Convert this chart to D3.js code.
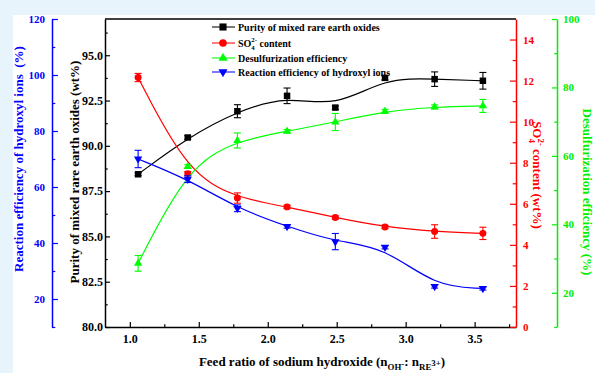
<!DOCTYPE html>
<html>
<head>
<meta charset="utf-8">
<script src="https://cdn.jsdelivr.net/npm/d3@7"></script>
<style>
  body { margin: 0; background: #e8f4fb; }
  svg { display: block; }
  text { font-family: "Liberation Serif", "Times New Roman", serif; font-weight: bold; white-space: pre; }
</style>
</head>
<body>
<svg id="chart" width="595" height="373"></svg>
<script>
// Feed ratio of NaOH (n_OH- : n_RE3+)
const feedRatio   = [1.06, 1.42, 1.78, 2.14, 2.49, 2.85, 3.21, 3.56];
// Purity of mixed rare earth oxides (wt%)
const purity      = [88.43, 90.46, 91.91, 92.76, 92.11, 93.75, 93.68, 93.59];
const purityErr   = [0.08, 0.10, 0.36, 0.43, 0.10, 0.12, 0.40, 0.46];
// SO4 2- content (wt%)
const sulfate     = [12.15, 7.47, 6.28, 5.85, 5.33, 4.87, 4.65, 4.56];
const sulfateErr  = [0.20, 0.10, 0.25, 0.08, 0.08, 0.08, 0.33, 0.30];
// Desulfurization efficiency (%)
const desulf      = [28.6, 56.9, 64.5, 67.2, 69.9, 73.0, 74.3, 74.6];
const desulfErr   = [2.3, 0.5, 2.2, 0.5, 2.5, 0.6, 0.6, 1.9];
// Reaction efficiency of hydroxyl ions (%)
const hydroxylEff = [70.0, 62.8, 52.4, 45.9, 40.5, 38.5, 24.5, 23.8];
const hydroxylErr = [3.1, 1.2, 1.2, 0.6, 2.9, 0.6, 0.6, 0.6];

// Tick values
const xTicks       = [1.0, 1.5, 2.0, 2.5, 3.0, 3.5];
const xMinor       = [1.25, 1.75, 2.25, 2.75, 3.25, 3.75];
const purityTicks  = [80, 82.5, 85, 87.5, 90, 92.5, 95];
const purityMinor  = [81.25, 83.75, 86.25, 88.75, 91.25, 93.75, 96.25];
const sulfateTicks = [0, 2, 4, 6, 8, 10, 12, 14];
const sulfateMinor = [1, 3, 5, 7, 9, 11, 13];
const desulfTicks  = [20, 40, 60, 80, 100];
const desulfMinor  = [10, 30, 50, 70, 90];
const effTicks     = [20, 40, 60, 80, 100, 120];
const effMinor     = [10, 30, 50, 70, 90, 110];

const svg = d3.select("#chart");
const L = 105, R = 516, T = 19, B = 327;
const serif = '"Liberation Serif", "Times New Roman", serif';

// white panel over the light-blue page
svg.append("rect").attr("x", 13).attr("y", 15).attr("width", 595 - 13).attr("height", 373 - 15).attr("fill", "#fff");

const x       = d3.scaleLinear().domain([0.82, 3.8]).range([L, R]);
const yPur    = d3.scaleLinear().domain([80, 97]).range([B, T]);
const ySO4    = d3.scaleLinear().domain([0, 15]).range([B, T]);
const yDes    = d3.scaleLinear().domain([10, 100]).range([B, T]);
const yEff    = d3.scaleLinear().domain([10, 120]).range([B, T]);

function styleAxis(g, color, size) {
  g.attr("font-family", serif).attr("font-size", size).attr("font-weight", "bold").attr("color", color);
  g.select(".domain").attr("stroke-width", 1.5);
  g.selectAll(".tick line").attr("stroke-width", 1.2);
}

function axisPair(gen, scale, major, minor, fmt, tickLen, pad, pos, color, size) {
  const g = svg.append("g").attr("transform", pos);
  g.call(gen(scale).tickValues(major).tickFormat(fmt).tickSizeInner(tickLen).tickSizeOuter(0).tickPadding(pad));
  styleAxis(g, color, size);
  const gm = svg.append("g").attr("transform", pos);
  gm.call(gen(scale).tickValues(minor).tickFormat("").tickSizeInner(tickLen * 0.55).tickSizeOuter(0));
  gm.attr("color", color);
  gm.select(".domain").remove();
  gm.selectAll(".tick line").attr("stroke-width", 1.2);
  return g;
}

// Frame top line
svg.append("line").attr("x1", L).attr("x2", R).attr("y1", T).attr("y2", T).attr("stroke", "#000").attr("stroke-width", 1.5);

// Axes
axisPair(d3.axisBottom, x, xTicks, xMinor, d3.format(".1f"), -5, 7, `translate(0,${B})`, "#000", 12);
axisPair(d3.axisLeft, yPur, purityTicks, purityMinor, d3.format(".1f"), -5, 2, `translate(${L},0)`, "#000", 12);
axisPair(d3.axisLeft, yEff, effTicks, effMinor, d3.format("d"), -6, 7, `translate(52,0)`, "#0000ff", 11);
axisPair(d3.axisRight, ySO4, sulfateTicks, sulfateMinor, d3.format("d"), -6, 7, `translate(${R},0)`, "#ff0000", 11);
axisPair(d3.axisRight, yDes, desulfTicks, desulfMinor, d3.format("d"), -5, 6, `translate(557,0)`, "#00ee00", 11);

// Rich text helper: segments with sub/superscripts (stacked where flagged)
function rich(parent, segs, { x0, y0, size, color, rotate = 0 }) {
  const g = parent.append("g").attr("transform", `translate(${x0},${y0}) rotate(${rotate})`);
  const inner = g.append("g");
  let cx = 0, prevStart = 0, prevW = 0;
  segs.forEach(s => {
    const fs = s.k ? size * 0.68 : size;
    const dy = s.dy !== undefined ? s.dy * size : (s.k === "sup" ? -size * 0.42 : s.k === "sub" ? size * 0.3 : 0);
    const start = s.stack ? prevStart : cx;
    const t = inner.append("text").attr("x", start).attr("y", dy)
      .attr("font-size", fs).attr("fill", color).text(s.t);
    const w = t.node().getComputedTextLength();
    if (s.stack) { cx = prevStart + Math.max(prevW, w); }
    else { prevStart = start; prevW = w; cx = start + w; }
  });
  inner.attr("transform", `translate(${-cx / 2},0)`);
  return g;
}

// Axis titles
rich(svg, [{ t: "Reaction efficiency of hydroxyl ions  (%)" }], { x0: 23, y0: 159, size: 13, color: "#0000ff", rotate: -90 });
rich(svg, [{ t: "Purity of mixed rare earth oxides (wt%)" }], { x0: 79, y0: 172, size: 13, color: "#000", rotate: -90 });
rich(svg, [{ t: "SO" }, { t: "2-", k: "sup" }, { t: "4", k: "sub", stack: true }, { t: " content (wt%)" }],
  { x0: 533, y0: 175, size: 13, color: "#ff0000", rotate: 90 });
rich(svg, [{ t: "Desulfurization efficiency (%)" }], { x0: 583, y0: 192, size: 13, color: "#00ee00", rotate: 90 });
rich(svg, [{ t: "Feed ratio of sodium hydroxide (n" }, { t: "OH", k: "sub" }, { t: "-", k: "sup", dy: 0.05 },
  { t: ": n" }, { t: "RE", k: "sub" }, { t: "3+", k: "sup", dy: 0.0 }, { t: ")" }],
  { x0: 322, y0: 366, size: 13, color: "#000" });

// Series
const series = [
  { name: "purity",  vals: purity,      err: purityErr,   y: yPur, color: "#000000", sym: d3.symbolSquare,   size: 42, rot: 0 },
  { name: "sulfate", vals: sulfate,     err: sulfateErr,  y: ySO4, color: "#ff0000", sym: d3.symbolCircle,   size: 38, rot: 0 },
  { name: "desulf",  vals: desulf,      err: desulfErr,   y: yDes, color: "#00ff00", sym: d3.symbolTriangle, size: 30, rot: 0 },
  { name: "hydroxyl",vals: hydroxylEff, err: hydroxylErr, y: yEff, color: "#0000ff", sym: d3.symbolTriangle, size: 30, rot: 180 }
];

series.forEach(s => {
  const pts = feedRatio.map((f, i) => ({ f, v: s.vals[i], e: s.err[i] }));
  const line = d3.line().x(d => x(d.f)).y(d => s.y(d.v)).curve(d3.curveBasis);
  const g = svg.append("g");
  g.append("path").attr("d", line(pts)).attr("fill", "none").attr("stroke", s.color).attr("stroke-width", 1.2);
  const eb = g.selectAll(".eb").data(pts.filter(d => d.e > 0)).join("g").attr("stroke", s.color).attr("stroke-width", 1.1);
  eb.append("line").attr("x1", d => x(d.f)).attr("x2", d => x(d.f)).attr("y1", d => s.y(d.v - d.e)).attr("y2", d => s.y(d.v + d.e));
  eb.append("line").attr("x1", d => x(d.f) - 3.5).attr("x2", d => x(d.f) + 3.5).attr("y1", d => s.y(d.v - d.e)).attr("y2", d => s.y(d.v - d.e));
  eb.append("line").attr("x1", d => x(d.f) - 3.5).attr("x2", d => x(d.f) + 3.5).attr("y1", d => s.y(d.v + d.e)).attr("y2", d => s.y(d.v + d.e));
  g.selectAll(".m").data(pts).join("path")
    .attr("d", d3.symbol().type(s.sym).size(s.size))
    .attr("transform", d => `translate(${x(d.f)},${s.y(d.v)}) rotate(${s.rot})`)
    .attr("fill", s.color);
});

// Legend
const legendRows = [
  { segs: [{ t: "Purity of mixed rare earth oxides" }], y: 27 },
  { segs: [{ t: "SO" }, { t: "2-", k: "sup" }, { t: "4", k: "sub", stack: true }, { t: " content" }], y: 43 },
  { segs: [{ t: "Desulfurization efficiency" }], y: 58 },
  { segs: [{ t: "Reaction efficiency of hydroxyl ions" }], y: 72 }
];
const lg = svg.append("g");
legendRows.forEach((row, i) => {
  const s = series[i];
  lg.append("line").attr("x1", 212).attr("x2", 235).attr("y1", row.y).attr("y2", row.y)
    .attr("stroke", s.color).attr("stroke-width", 1.4).attr("stroke-opacity", 0.75);
  lg.append("path").attr("d", d3.symbol().type(s.sym).size(s.size * 1.2))
    .attr("transform", `translate(223,${row.y}) rotate(${s.rot})`).attr("fill", s.color);
  const t = rich(lg, row.segs, { x0: 0, y0: row.y + 3.5, size: 10, color: "#000" });
  t.select("g").attr("transform", "translate(0,0)");
  t.attr("transform", `translate(238,${row.y + 3.5})`);
});
</script>
</body>
</html>
